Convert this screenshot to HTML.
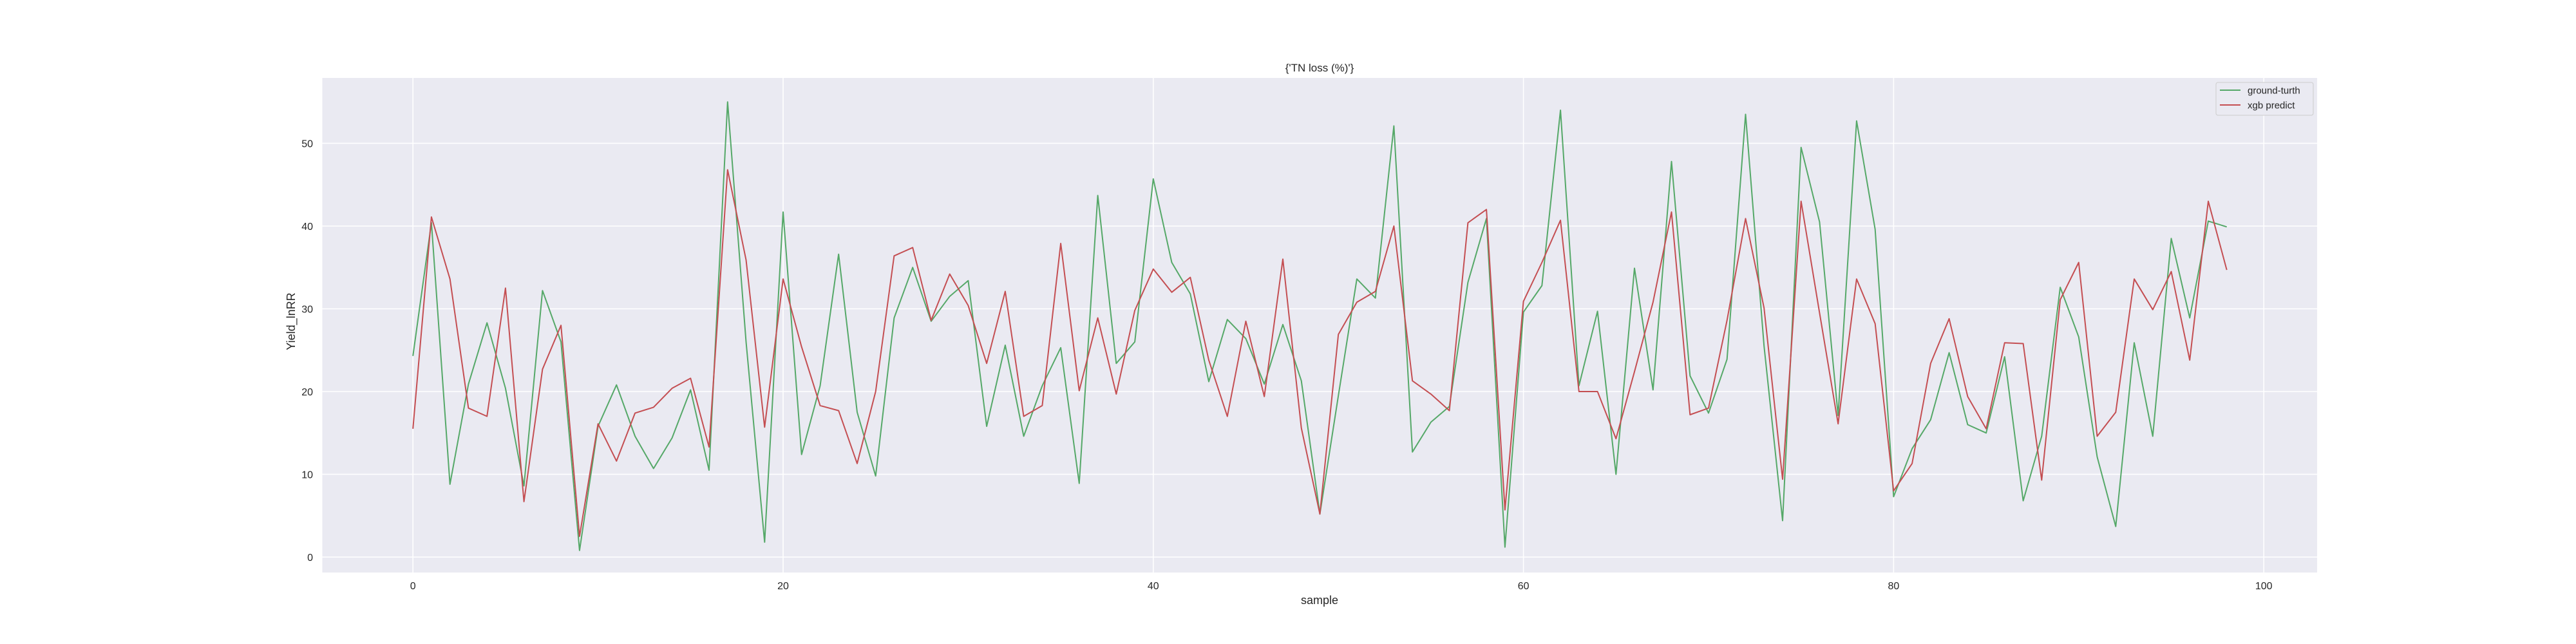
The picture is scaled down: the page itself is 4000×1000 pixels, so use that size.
<!DOCTYPE html>
<html><head><meta charset="utf-8"><style>
html,body{margin:0;padding:0;background:#fff;}
svg{display:block;font-family:"Liberation Sans","DejaVu Sans",sans-serif;}
</style></head>
<body>
<svg id="chart" width="4000" height="1000" viewBox="0 0 4000 1000" xmlns="http://www.w3.org/2000/svg">
<rect x="0" y="0" width="4000" height="1000" fill="#ffffff"/>
<rect x="500.5" y="121" width="3097.5" height="768" fill="#eaeaf2"/>
<g id="grid"></g>
<g id="ticks"></g>
<g id="series"></g>
<text x="2049" y="111" font-size="17" fill="#262626" text-anchor="middle">{'TN loss (%)'}</text>
<text x="2049" y="938" font-size="18" fill="#262626" text-anchor="middle">sample</text>
<text x="458" y="499" font-size="18" fill="#262626" text-anchor="middle" transform="rotate(-90 458 499)">Yield_lnRR</text>
<g>
<rect x="3441" y="128" width="151" height="51" rx="3" fill="#eaeaf2" stroke="#cccccc" stroke-width="1"/>
<line x1="3447" y1="140" x2="3479" y2="140" stroke="#55a868" stroke-width="2"/>
<text x="3490" y="145.5" font-size="15" fill="#262626">ground-turth</text>
<line x1="3447" y1="163" x2="3479" y2="163" stroke="#c44e52" stroke-width="2"/>
<text x="3490" y="168.5" font-size="15" fill="#262626">xgb predict</text>
</g>
</svg>
<script>
const groundTruth = [24.3,40.4,8.8,20.9,28.3,20.4,8.6,32.2,26.0,0.8,15.8,20.8,14.6,10.7,14.4,20.2,10.5,55.0,26.0,1.8,41.7,12.4,20.7,36.6,17.5,9.8,28.9,35.0,28.5,31.5,33.4,15.8,25.6,14.6,20.7,25.3,8.9,43.7,23.4,26.0,45.7,35.6,31.8,21.2,28.7,26.4,20.9,28.1,21.3,5.2,19.5,33.6,31.3,52.1,12.7,16.3,18.2,33.2,40.9,1.2,29.6,32.8,54.0,20.7,29.7,10.0,34.9,20.2,47.8,21.9,17.4,23.9,53.5,25.5,4.4,49.5,40.5,17.1,52.7,39.6,7.3,13.1,16.6,24.7,16.0,15.0,24.2,6.8,14.6,32.6,26.6,12.1,3.7,25.9,14.6,38.5,28.9,40.6,39.9];
const xgbPredict = [15.5,41.1,33.6,18.0,17.0,32.5,6.7,22.7,28.0,2.5,16.1,11.6,17.4,18.1,20.4,21.6,13.3,46.8,35.9,15.7,33.6,25.4,18.3,17.7,11.3,20.0,36.4,37.4,28.6,34.2,30.4,23.4,32.1,17.0,18.3,37.9,20.1,28.9,19.7,29.8,34.8,32.0,33.8,23.8,17.0,28.5,19.4,36.0,15.6,5.2,26.9,30.8,32.1,40.0,21.3,19.7,17.7,40.4,42.0,5.7,30.9,35.6,40.7,20.0,20.0,14.3,22.4,30.8,41.7,17.2,18.0,28.6,40.9,30.1,9.4,43.0,29.5,16.1,33.6,28.2,8.0,11.3,23.4,28.8,19.4,15.5,25.9,25.8,9.3,31.1,35.6,14.6,17.5,33.6,29.9,34.5,23.8,43.0,34.7];
const xTicks = [0,20,40,60,80,100];
const yTicks = [0,10,20,30,40,50];

const NS = "http://www.w3.org/2000/svg";
function xScale(i){ return 641.2 + 28.74 * i; }
function yScale(v){ return 865 - 12.85 * v; }
function mk(tag, attrs, parent){
  const e = document.createElementNS(NS, tag);
  for (const k in attrs) e.setAttribute(k, attrs[k]);
  parent.appendChild(e);
  return e;
}
const grid = document.getElementById('grid');
const ticks = document.getElementById('ticks');
const series = document.getElementById('series');

xTicks.forEach(function(t){
  const x = xScale(t);
  const gl = mk('line', {x1:x, y1:121, x2:x, y2:889, stroke:'#ffffff', 'stroke-width':1.6}, grid);
  
  
  const tl = mk('text', {x:x, y:915, 'font-size':16, fill:'#262626', 'text-anchor':'middle'}, ticks);
  tl.textContent = t;
  
  
});
yTicks.forEach(function(t){
  const y = yScale(t);
  const gl = mk('line', {x1:500.5, y1:y, x2:3598, y2:y, stroke:'#ffffff', 'stroke-width':1.6}, grid);
  
  
  const tl = mk('text', {x:486, y:y + 6, 'font-size':16, fill:'#262626', 'text-anchor':'end'}, ticks);
  tl.textContent = t;
  
  
});

function pts(arr){ return arr.map(function(v,i){ return xScale(i).toFixed(1) + ',' + yScale(v).toFixed(1); }).join(' '); }
const g1 = mk('polyline', {points:pts(groundTruth), fill:'none', stroke:'#55a868', 'stroke-width':2, 'stroke-linejoin':'round'}, series);


const g2 = mk('polyline', {points:pts(xgbPredict), fill:'none', stroke:'#c44e52', 'stroke-width':2, 'stroke-linejoin':'round'}, series);


</script>
</body></html>
